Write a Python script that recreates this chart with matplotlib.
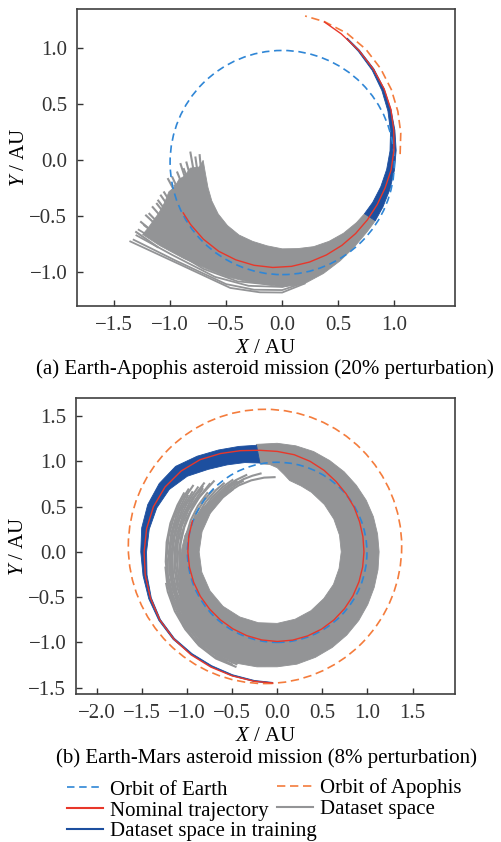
import numpy as np
import matplotlib
matplotlib.use('Agg')
import matplotlib.pyplot as plt
from matplotlib.patches import Circle, Polygon
from matplotlib.lines import Line2D

plt.rcParams['font.family'] = ['Liberation Serif', 'DejaVu Serif']
plt.rcParams['mathtext.fontset'] = 'custom'
plt.rcParams['mathtext.rm'] = 'Liberation Serif'
plt.rcParams['mathtext.it'] = 'Liberation Serif:italic'

C_EARTH = '#2f86d6'
C_APO = '#f47c3c'
C_NOM = '#e8372a'
C_DATA = '#939496'
C_TRAIN = '#1d4f9f'
FS = 15

# ---------------- (a) Earth-Apophis, curves read in polar form (deg, AU) ----------------
a_earth_center = (0.0, -0.02)
a_earth_radius = 1.0
a_apo_ang = [3, 13, 23, 33, 43, 53, 63, 73, 81]
a_apo_rad = [1.053, 1.085, 1.12, 1.16, 1.2, 1.24, 1.272, 1.293, 1.304]
a_nom_ang = [208, 215, 225, 235, 245, 255, 265, 275, 285, 295, 305, 315, 325, 335, 345, 355, 365,
             375, 385, 395, 405, 415, 425, 433]
a_nom_rad = [1.0, 0.998, 0.995, 0.99, 0.98, 0.97, 0.96, 0.95, 0.94, 0.932, 0.927, 0.925, 0.927,
             0.935, 0.95, 0.975, 1.0, 1.03, 1.07, 1.11, 1.15, 1.195, 1.245, 1.29]
a_train_ang = [327, 335, 345, 355, 365, 375, 385, 395, 405, 415, 422]
a_train_in = [0.875, 0.89, 0.91, 0.935, 0.965, 1.0, 1.04, 1.085, 1.135, 1.185, 1.225]
a_train_out = [0.99, 0.99, 0.995, 1.005, 1.02, 1.04, 1.07, 1.11, 1.155, 1.2, 1.235]
# dense part of the dataset bundle
a_set_in_ang = [327, 320, 310, 300, 290, 280, 270, 260, 250, 240, 230, 220, 210, 200, 190, 180]
a_set_in_rad = [0.875, 0.865, 0.85, 0.835, 0.82, 0.8, 0.79, 0.775, 0.77, 0.77, 0.76, 0.745, 0.725,
                0.705, 0.695, 0.705]
a_set_end_x = [-0.74, -0.82, -0.87, -0.92, -0.96, -1.01, -1.05, -1.1, -1.15, -1.2]
a_set_end_y = [-0.06, -0.07, -0.14, -0.17, -0.24, -0.28, -0.38, -0.47, -0.54, -0.61]
a_set_out_ang = [208, 215, 225, 235, 245, 255, 265, 270, 280, 290, 300, 310, 320, 327]
a_set_out_rad = [1.41, 1.33, 1.24, 1.18, 1.15, 1.125, 1.12, 1.13, 1.12, 1.075, 1.035, 1.005, 0.99, 0.99]
# loose strand ends (base -> tip, AU)
a_tip_x = [-0.737, -0.775, -0.82, -0.856, -0.88, -0.909, -0.939, -0.963, -0.983, -1.022, -1.058,
           -1.087, -1.111, -1.123, -1.161, -1.191, -1.221, -1.236, -1.266, -1.31]
a_tip_y = [0.055, 0.034, 0.078, -0.011, -0.07, -0.025, -0.10, -0.218, -0.144, -0.159, -0.278,
           -0.307, -0.352, -0.381, -0.411, -0.471, -0.486, -0.575, -0.545, -0.635]
a_base_x = [-0.715, -0.74, -0.777, -0.791, -0.794, -0.832, -0.845, -0.838, -0.877, -0.905, -0.926,
            -0.944, -0.961, -0.969, -0.997, -1.017, -1.038, -1.039, -1.074, -1.105]
a_base_y = [-0.194, -0.214, -0.168, -0.252, -0.305, -0.263, -0.332, -0.435, -0.371, -0.38, -0.49,
            -0.512, -0.552, -0.578, -0.6, -0.651, -0.656, -0.729, -0.706, -0.778]
# outermost separated strands
a_outer_x = [[-1.355, -0.909, -0.463, -0.2, 0.0, 0.2],
             [-1.325, -0.95, -0.5, -0.25, 0.0, 0.2],
             [-1.30, -0.98, -0.6, -0.3, 0.0, 0.2],
             [-1.28, -1.0, -0.7, -0.4, -0.1]]
a_outer_y = [[-0.724, -0.931, -1.139, -1.178, -1.18, -1.1],
             [-0.709, -0.895, -1.105, -1.155, -1.158, -1.09],
             [-0.67, -0.845, -1.04, -1.12, -1.13, -1.08],
             [-0.62, -0.79, -0.97, -1.08, -1.11]]

# ---------------- (b) Earth-Mars ----------------
b_earth_center = (0.0, -0.005)
b_earth_radius = 0.995
b_mars_center = (-0.135, 0.06)
b_mars_radius = 1.515
b_nom_ang = [160, 170, 180, 190, 200, 210, 220, 230, 240, 250, 260, 270, 280, 290, 300, 310, 320,
             330, 340, 350, 360, 370, 380, 390, 400, 410, 420, 430, 440, 450, 460, 470, 480, 490,
             500, 510, 520, 530, 540, 550, 560, 570, 580, 590, 600, 610, 620, 628]
b_nom_rad = [1.0, 0.995, 0.99, 0.987, 0.985, 0.983, 0.98, 0.98, 0.982, 0.985, 0.988, 0.99, 0.99,
             0.988, 0.985, 0.98, 0.975, 0.97, 0.965, 0.962, 0.962, 0.965, 0.972, 0.985, 0.998,
             1.015, 1.04, 1.065, 1.09, 1.11, 1.14, 1.19, 1.255, 1.33, 1.39, 1.435, 1.46, 1.47,
             1.475, 1.485, 1.495, 1.503, 1.497, 1.485, 1.47, 1.458, 1.452, 1.45]
b_train_ang = [101, 110, 120, 130, 140, 150, 160, 170, 180, 190, 200, 210, 220, 230, 240, 250, 260, 268]
b_train_in = [1.0, 1.05, 1.11, 1.19, 1.3, 1.38, 1.42, 1.44, 1.448, 1.465, 1.485, 1.495, 1.487,
              1.468, 1.452, 1.445, 1.443, 1.443]
b_train_out = [1.2, 1.24, 1.3, 1.38, 1.47, 1.51, 1.527, 1.525, 1.512, 1.51, 1.515, 1.515, 1.505,
               1.482, 1.465, 1.458, 1.455, 1.455]
b_set_out_ang = [101, 90, 80, 70, 60, 50, 40, 30, 20, 10, 0, -10, -20, -30, -40, -50, -60, -70,
                 -80, -90, -100, -110, -120, -130, -140, -150, -160, -170, -180, -190]
b_set_out_rad = [1.21, 1.2, 1.19, 1.18, 1.165, 1.155, 1.145, 1.14, 1.135, 1.13, 1.13, 1.135, 1.145,
                 1.16, 1.18, 1.2, 1.22, 1.24, 1.26, 1.27, 1.29, 1.31, 1.32, 1.31, 1.28, 1.23, 1.16,
                 1.1, 1.065, 1.04]
b_set_end_ang = [-200, -210, -220, -230, -235]
b_set_end_rad = [1.0, 0.96, 0.92, 0.88, 0.85]
b_set_in_ang = [-235, -225, -210, -195, -180, -165, -150, -135, -120, -105, -90, -75, -60, -45, -30,
                -15, 0, 15, 30, 45, 60, 70, 80, 85, 90, 95, 101]
b_set_in_rad = [0.84, 0.845, 0.855, 0.862, 0.865, 0.865, 0.86, 0.85, 0.83, 0.81, 0.79, 0.77, 0.75,
                0.73, 0.72, 0.71, 0.71, 0.715, 0.725, 0.74, 0.76, 0.775, 0.8, 0.86, 0.93, 0.97, 0.99]
# loose strands of the bundle (polar)
b_fray_ang = [[150, 140, 130, 120, 110, 100, 92], [155, 145, 135, 125, 115, 108, 102],
              [160, 150, 140, 130, 120, 112], [160, 150, 140, 130, 122], [165, 155, 145, 135, 128],
              [165, 155, 145, 136], [170, 160, 150, 140], [150, 140, 130, 120, 116],
              [155, 145, 135, 125, 120],
              [225, 215, 205, 195, 185, 175, 165, 155, 148], [222, 212, 202, 192, 182, 172, 162, 152, 145],
              [220, 210, 200, 190, 180, 170, 160, 150, 142], [218, 208, 198, 188, 178, 168, 158, 148],
              [215, 205, 195, 185, 175, 165, 155, 145], [212, 202, 192, 182, 172, 162, 152, 141],
              [210, 200, 190, 180, 170, 160, 150, 137], [207, 197, 187, 177, 167, 157, 146, 139],
              [205, 195, 185, 175, 165, 155, 140], [200, 190, 180, 170, 160, 150, 135],
              [195, 185, 175, 165, 155, 145, 132],
              [250, 240, 230, 220, 210, 200, 196], [245, 235, 225, 215, 205, 195, 188],
              [250, 240, 230, 220, 212], [248, 238, 228, 218]]
b_fray_rad = [[0.866, 0.862, 0.856, 0.849, 0.841, 0.833, 0.826], [0.9, 0.895, 0.891, 0.888, 0.886, 0.885, 0.885],
              [0.93, 0.925, 0.921, 0.918, 0.916, 0.915], [0.95, 0.945, 0.941, 0.938, 0.936],
              [0.975, 0.97, 0.966, 0.963, 0.961], [1.0, 0.995, 0.99, 0.988], [1.025, 1.02, 1.015, 1.012],
              [0.88, 0.876, 0.872, 0.87, 0.869], [0.91, 0.907, 0.904, 0.902, 0.901],
              [1.3, 1.285, 1.27, 1.255, 1.24, 1.23, 1.225, 1.22, 1.22],
              [1.285, 1.268, 1.252, 1.238, 1.225, 1.215, 1.208, 1.204, 1.202],
              [1.27, 1.25, 1.23, 1.215, 1.2, 1.192, 1.188, 1.186, 1.185],
              [1.255, 1.235, 1.215, 1.198, 1.185, 1.176, 1.171, 1.168],
              [1.24, 1.22, 1.2, 1.18, 1.165, 1.158, 1.153, 1.15],
              [1.22, 1.2, 1.18, 1.163, 1.15, 1.141, 1.135, 1.132],
              [1.2, 1.175, 1.155, 1.14, 1.128, 1.12, 1.115, 1.11],
              [1.175, 1.152, 1.135, 1.122, 1.112, 1.104, 1.099, 1.097],
              [1.15, 1.13, 1.115, 1.105, 1.095, 1.088, 1.08],
              [1.12, 1.1, 1.088, 1.078, 1.07, 1.064, 1.06],
              [1.1, 1.085, 1.075, 1.065, 1.058, 1.053, 1.05],
              [1.35, 1.36, 1.35, 1.33, 1.31, 1.29, 1.28], [1.33, 1.335, 1.325, 1.305, 1.285, 1.265, 1.25],
              [1.32, 1.325, 1.315, 1.3, 1.29], [1.34, 1.35, 1.34, 1.32]]


def pol(ang, rad):
    t = np.radians(np.asarray(ang, dtype=float))
    r = np.asarray(rad, dtype=float)
    return r * np.cos(t), r * np.sin(t)


def fill_pts(ax, parts, color, z):
    pts = np.vstack([np.column_stack(p) for p in parts])
    ax.add_patch(Polygon(pts, closed=True, fc=color, ec=color, lw=0.6, zorder=z))


def style(ax, xlim, ylim, xticks, yticks):
    ax.set_xlim(*xlim)
    ax.set_ylim(*ylim)
    ax.set_xticks(xticks)
    ax.set_yticks(yticks)
    ax.set_xticklabels([f'{v:.1f}'.replace('-', '\u2212') for v in xticks])
    ax.set_yticklabels([f'{v:.1f}'.replace('-', '\u2212') for v in yticks])
    ax.tick_params(direction='in', length=4, width=1.0, pad=7, labelsize=FS, colors='#333333')
    for s in ax.spines.values():
        s.set_linewidth(1.2)
        s.set_color('#404040')
    ax.set_xlabel('$X$ / AU', fontsize=FS, labelpad=3)
    ax.set_ylabel('$Y$ / AU', fontsize=FS, labelpad=0.5)


fig = plt.figure(figsize=(5.01, 8.42), dpi=100)
ax1 = fig.add_axes([0.1537, 0.6366, 0.7543, 0.3527])
ax2 = fig.add_axes([0.1517, 0.1758, 0.7563, 0.3515])

dash_e = (0, (4.5, 2.8))
dash_a = (0, (5.0, 2.8))

# panel (a)
fill_pts(ax1, [pol(a_set_in_ang, a_set_in_rad), (a_set_end_x, a_set_end_y),
               pol(a_set_out_ang, a_set_out_rad)], C_DATA, 1)
for bx, by, tx, ty in zip(a_base_x, a_base_y, a_tip_x, a_tip_y):
    ax1.plot([bx, tx], [by, ty], color=C_DATA, lw=1.5, solid_capstyle='butt', zorder=1)
for xs, ys in zip(a_outer_x, a_outer_y):
    ax1.plot(xs, ys, color=C_DATA, lw=1.3, zorder=1)
fill_pts(ax1, [pol(a_train_ang, a_train_in), pol(a_train_ang[::-1], a_train_out[::-1])], C_TRAIN, 2)
ax1.add_patch(Circle(a_earth_center, a_earth_radius, fill=False, ec=C_EARTH, lw=1.2, ls=dash_e, zorder=3))
x, y = pol(a_apo_ang, a_apo_rad)
ax1.plot(x, y, color=C_APO, lw=1.2, ls=dash_a, zorder=3)
x, y = pol(a_nom_ang, a_nom_rad)
ax1.plot(x, y, color=C_NOM, lw=1.0, zorder=4)
style(ax1, (-1.83, 1.54), (-1.30, 1.35), [-1.5, -1.0, -0.5, 0.0, 0.5, 1.0], [-1.0, -0.5, 0.0, 0.5, 1.0])

# panel (b)
fill_pts(ax2, [pol(b_set_out_ang, b_set_out_rad), pol(b_set_end_ang, b_set_end_rad),
               pol(b_set_in_ang, b_set_in_rad)], C_DATA, 1)
for angs, rads in zip(b_fray_ang, b_fray_rad):
    x, y = pol(angs, rads)
    ax2.plot(x, y, color=C_DATA, lw=1.5, zorder=1)
fill_pts(ax2, [pol(b_train_ang, b_train_in), pol(b_train_ang[::-1], b_train_out[::-1])], C_TRAIN, 2)
ax2.add_patch(Circle(b_earth_center, b_earth_radius, fill=False, ec=C_EARTH, lw=1.2, ls=dash_e, zorder=3))
ax2.add_patch(Circle(b_mars_center, b_mars_radius, fill=False, ec=C_APO, lw=1.2, ls=dash_a, zorder=3))
x, y = pol(b_nom_ang, b_nom_rad)
ax2.plot(x, y, color=C_NOM, lw=1.0, zorder=4)
style(ax2, (-2.23, 1.97), (-1.57, 1.70), [-2.0, -1.5, -1.0, -0.5, 0.0, 0.5, 1.0, 1.5],
      [-1.5, -1.0, -0.5, 0.0, 0.5, 1.0, 1.5])

fig.text(0.529, 0.5615, '(a) Earth-Apophis asteroid mission (20% perturbation)', ha='center', va='center', fontsize=FS)
fig.text(0.531, 0.0995, '(b) Earth-Mars asteroid mission (8% perturbation)', ha='center', va='center', fontsize=FS)

# legend: two stacked columns, the second starting close to the first
h_earth = Line2D([], [], color=C_EARTH, lw=1.2, ls=dash_e)
h_apo = Line2D([], [], color=C_APO, lw=1.2, ls=dash_a)
h_nom = Line2D([], [], color=C_NOM, lw=1.5)
h_set = Line2D([], [], color=C_DATA, lw=1.5)
h_train = Line2D([], [], color=C_TRAIN, lw=1.5)
kw = dict(frameon=False, fontsize=FS, handlelength=1.73, handletextpad=0.33, labelspacing=0.06,
          borderpad=0.0, borderaxespad=0.0, loc='upper left')
fig.legend([h_earth, h_nom, h_train], ['Orbit of Earth', 'Nominal trajectory', 'Dataset space in training'],
           bbox_to_anchor=(0.134, 0.0735), **kw)
fig.legend([h_apo, h_set], ['Orbit of Apophis', 'Dataset space'],
           bbox_to_anchor=(0.553, 0.0755), **kw)

fig.savefig('out.png', dpi=100)
